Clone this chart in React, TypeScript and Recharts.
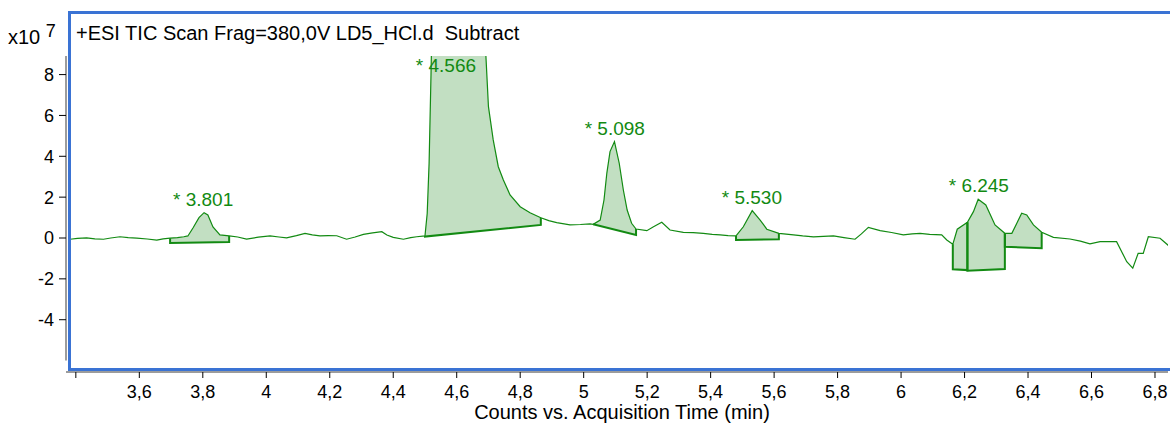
import React from 'react';
import { ComposedChart, Area, Line, XAxis, YAxis, ReferenceDot, ReferenceLine } from 'recharts';

const GREEN = '#128a12';
const FILL = '#c2dfc2';
const FRAME = '#3a73d4';
const AXIS_GREY = '#9c9c9c';
const FONT = 'Arial, "Liberation Sans", sans-serif';

const X_MIN = 3.369;
const X_MAX = 6.841;
const Y_MIN = -6.56;
const Y_MAX = 8.91;
const Y_LINE_BOTTOM = -6.0;

const xTicks = [3.4, 3.6, 3.8, 4, 4.2, 4.4, 4.6, 4.8, 5, 5.2, 5.4, 5.6, 5.8, 6, 6.2, 6.4, 6.6, 6.8];
const yTicks = [-4, -2, 0, 2, 4, 6, 8];

// TIC trace, x10^7 counts
const traceTime = [
  3.382, 3.405, 3.434, 3.46, 3.487, 3.51, 3.539, 3.565, 3.592, 3.625, 3.655, 3.675, 3.697, 3.72, 3.74,
  3.753, 3.769, 3.788, 3.804, 3.816, 3.832, 3.854, 3.883, 3.91, 3.938, 3.975, 4.012, 4.04, 4.064, 4.095,
  4.122, 4.145, 4.169, 4.195, 4.222, 4.253, 4.28, 4.306, 4.335, 4.364, 4.38, 4.4, 4.432, 4.455, 4.474,
  4.5, 4.507, 4.513, 4.519, 4.525, 4.566, 4.63, 4.68, 4.692, 4.7, 4.715, 4.731, 4.747, 4.768, 4.8,
  4.831, 4.865, 4.89, 4.915, 4.957, 4.99, 5.02, 5.03, 5.052, 5.064, 5.073, 5.083, 5.097, 5.112, 5.125,
  5.137, 5.151, 5.165, 5.199, 5.22, 5.246, 5.272, 5.314, 5.345, 5.377, 5.405, 5.43, 5.455, 5.48, 5.503,
  5.531, 5.556, 5.577, 5.615, 5.661, 5.69, 5.724, 5.755, 5.787, 5.82, 5.855, 5.875, 5.897, 5.934, 5.97,
  6.007, 6.035, 6.06, 6.09, 6.128, 6.144, 6.163, 6.177, 6.209, 6.228, 6.243, 6.267, 6.296, 6.327, 6.349,
  6.38, 6.396, 6.417, 6.443, 6.48, 6.532, 6.565, 6.595, 6.627, 6.679, 6.711, 6.73, 6.747, 6.763, 6.779,
  6.816, 6.847,
];
const traceValue = [
  -0.06, -0.02, 0.01, -0.04, -0.06, 0.0, 0.06, 0.02, -0.01, -0.05, -0.1, -0.04, -0.01, 0.02, 0.06,
  0.1, 0.49, 1.0, 1.24, 1.13, 0.54, 0.15, 0.1, 0.05, -0.05, 0.04, 0.1, 0.05, 0.01, 0.12,
  0.23, 0.15, 0.1, 0.12, 0.11, -0.06, 0.05, 0.18, 0.25, 0.31, 0.15, 0.03, -0.06, 0.02, 0.06,
  0.1, 1.2, 3.67, 8.0, 13, 22, 16, 10.5, 8.9, 6.43, 4.8, 3.49, 2.84, 2.11, 1.53,
  1.24, 0.99, 0.85, 0.75, 0.64, 0.66, 0.69, 0.67, 0.88, 1.86, 3.18, 4.23, 4.72, 3.66, 2.35,
  1.37, 0.72, 0.44, 0.36, 0.55, 0.77, 0.39, 0.28, 0.26, 0.23, 0.18, 0.15, 0.12, 0.1, 0.55,
  1.34, 0.88, 0.43, 0.23, 0.15, 0.1, 0.06, 0.08, 0.1, 0.02, -0.06, 0.2, 0.52, 0.36, 0.27,
  0.15, 0.2, 0.23, 0.18, 0.15, -0.1, -0.31, 0.43, 0.77, 1.29, 1.9, 1.62, 0.64, 0.23, 0.23,
  1.21, 1.13, 0.64, 0.28, 0.03, -0.05, -0.15, -0.29, -0.18, -0.18, -1.16, -1.48, -0.75, -0.75, 0.06,
  -0.01, -0.43,
];

// integration regions
const peakStart = [3.697, 4.5, 5.03, 5.48, 6.163, 6.209, 6.327];
const peakEnd = [3.883, 4.865, 5.165, 5.615, 6.209, 6.327, 6.443];
const baseStart = [-0.24, 0.07, 0.67, -0.1, -1.53, -1.6, -0.43];
const baseEnd = [-0.2, 0.64, 0.15, -0.06, -1.57, -1.52, -0.5];

// peak labels
const labelTime = [3.801, 4.566, 5.098, 5.53, 6.245];
const labelApex = [1.24, 22, 4.72, 1.34, 1.9];

const trace = traceTime.map((t, i) => ({ t, v: traceValue[i] }));
const valueAt = (t: number) => trace.find((p) => Math.abs(p.t - t) < 1e-6)!.v;

const peakAreas = peakStart.map((s, k) => {
  const e = peakEnd[k];
  const baseAt = (t: number) => baseStart[k] + ((baseEnd[k] - baseStart[k]) * (t - s)) / (e - s);
  return trace
    .filter((p) => p.t >= s - 1e-6 && p.t <= e + 1e-6)
    .map((p) => ({ t: p.t, range: [baseAt(p.t), p.v] }));
});

const peakEdges = peakStart.map((s, k) => [
  { t: s, v: valueAt(s) },
  { t: s, v: baseStart[k] },
  { t: peakEnd[k], v: baseEnd[k] },
  { t: peakEnd[k], v: valueAt(peakEnd[k]) },
]);

const fmtX = (v: number) => (v === 3.4 ? '' : String(v).replace('.', ','));

export default function App() {
  return (
    <div style={{ position: 'absolute', left: 0, top: 0, width: 1170, height: 427, fontFamily: FONT, background: '#fff' }}>
      <ComposedChart width={1170} height={427} margin={{ top: 56, right: 2, bottom: 0, left: 0 }}>
        <XAxis
          type="number"
          dataKey="t"
          domain={[X_MIN, X_MAX]}
          ticks={xTicks}
          tickFormatter={fmtX}
          allowDataOverflow
          height={55}
          tickSize={6}
          tickMargin={7}
          axisLine={{ stroke: AXIS_GREY, strokeWidth: 2 }}
          tickLine={{ stroke: '#000' }}
          tick={{ fill: '#000', fontSize: 18 }}
          label={{ value: 'Counts vs. Acquisition Time (min)', position: 'insideBottom', offset: 8, dx: 5, fill: '#000', fontSize: 20 }}
        />
        <YAxis
          type="number"
          domain={[Y_MIN, Y_MAX]}
          ticks={yTicks}
          allowDataOverflow
          width={66}
          tickSize={7}
          tickMargin={5}
          axisLine={false}
          tickLine={{ stroke: '#000' }}
          tick={{ fill: '#000', fontSize: 18 }}
        />
        <ReferenceLine
          segment={[{ x: X_MIN, y: Y_LINE_BOTTOM }, { x: X_MIN, y: Y_MAX }]}
          stroke={AXIS_GREY}
          strokeWidth={2}
        />
        {peakAreas.map((d, k) => (
          <Area
            key={`a${k}`}
            data={d}
            dataKey="range"
            type="linear"
            stroke="none"
            fill={FILL}
            fillOpacity={1}
            isAnimationActive={false}
            activeDot={false}
          />
        ))}
        <Line
          data={trace}
          dataKey="v"
          type="linear"
          stroke={GREEN}
          strokeWidth={1.2}
          dot={false}
          activeDot={false}
          isAnimationActive={false}
        />
        {peakEdges.map((d, k) => (
          <Line
            key={`e${k}`}
            data={d}
            dataKey="v"
            type="linear"
            stroke={GREEN}
            strokeWidth={2}
            dot={false}
            activeDot={false}
            isAnimationActive={false}
          />
        ))}
        {labelTime.map((t, k) => (
          <ReferenceDot
            key={`l${k}`}
            x={t}
            y={Math.min(labelApex[k], Y_MAX - 1.12)}
            r={0}
            fill="none"
            stroke="none"
            label={{ value: `* ${t.toFixed(3)}`, position: 'top', offset: 7, fill: GREEN, fontSize: 19 }}
          />
        ))}
      </ComposedChart>
      <div
        style={{
          position: 'absolute', left: 68, top: 11, width: 1110, height: 360,
          boxSizing: 'border-box', border: `3px solid ${FRAME}`, pointerEvents: 'none',
        }}
      />
      <div style={{ position: 'absolute', left: 76, top: 22, fontSize: 20, lineHeight: '22px', whiteSpace: 'pre', color: '#000' }}>
        +ESI TIC Scan Frag=380,0V LD5_HCl.d  Subtract
      </div>
      <div style={{ position: 'absolute', left: 8, top: 26, fontSize: 20, lineHeight: '22px', color: '#000', whiteSpace: 'pre' }}>
        x10 <span style={{ position: 'relative', top: -7, fontSize: 18 }}>7</span>
      </div>
    </div>
  );
}
